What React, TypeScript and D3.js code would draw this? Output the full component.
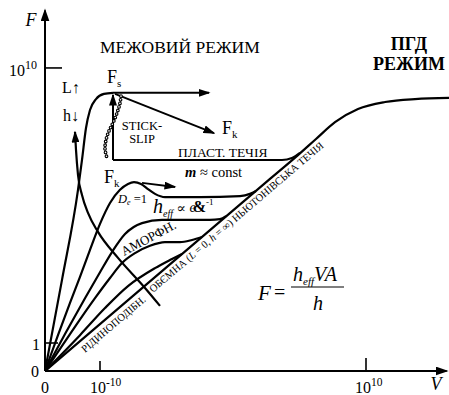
import React from 'react';
import * as d3 from 'd3';

type Pt = [number, number];

// Schematic units: both axes run 0..100 across the plotting frame.
const X = d3.scaleLinear().domain([0, 100]).range([45, 445]);
const Y = d3.scaleLinear().domain([0, 100]).range([371, 5]);

// Static-friction branch rising to the F_s peak
const staticCurve: Pt[] = [[0, 0], [4.25, 24.9], [8.25, 49.5], [9.25, 57.7], [10.25, 66.4], [11.25, 71.3], [12.75, 74.3], [14.75, 75.7], [17, 76.0]];
// Film thickness h falling as load grows (arrow at the top end)
const thicknessCurve: Pt[] = [[7.5, 65.3], [7.75, 60.4], [8.25, 53.6], [9.25, 48.1], [10.75, 43.2], [13.25, 38.0], [18.25, 30.9], [25, 22.7], [28.75, 17.8]];
// Kinetic branch with the D_e = 1 overshoot
const kineticCurve: Pt[] = [[0, 0], [3.25, 9.8], [6.25, 18.6], [8.75, 25.7], [11.25, 33.1], [13.75, 40.2], [16.25, 45.9], [18.75, 49.5], [20.75, 51.1], [22.25, 51.6], [24, 51.1], [25.75, 49.7], [27.5, 48.4], [30, 47.5], [38.75, 47.5], [48.75, 47.8], [51.25, 48.4], [52.75, 49.2]];
// Shear-thinning family merging into the Newtonian line
const thinningA: Pt[] = [[0, 0], [5, 10.1], [10, 19.9], [13.75, 27.0], [16.75, 32.5], [20, 37.4], [24.25, 40.4], [29.25, 41.3], [41.25, 41.3], [43.75, 41.5], [45.25, 42.3]];
const amorphous: Pt[] = [[0, 0], [6.25, 10.1], [12.5, 19.9], [16.25, 25.4], [19.25, 29.5], [22.5, 32.2], [26.25, 34.2], [30, 35.2], [33.75, 35.2], [36.75, 35.8], [39.25, 36.6]];
const thinningC: Pt[] = [[0, 0], [8.75, 9.8], [15, 17.2], [20.75, 23.2], [27.5, 28.1], [31.75, 30.6], [34.25, 32.0]];
// Bulk Newtonian flow, then the transition to the EHD regime
const newtonian: Pt[] = [[0, 0], [56.25, 52.5], [63.25, 59.0], [67.75, 63.4], [72.5, 68.0], [78.25, 71.6], [85, 73.5], [92.5, 74.3], [101, 74.6]];
// Plastic flow plateau (m ≈ const)
const plasticFlow: Pt[] = [[17, 57.65], [59.25, 57.65], [61.75, 58.2], [63.75, 59.6]];
// Stick-slip trace
const slipTrace: Pt[] = [[19, 75.1], [18.75, 73.2], [18, 70.5], [17, 67.8], [16, 65.6], [15.25, 63.1], [15, 60.7], [15.5, 58.2]];

// Straight arrows
const arrows: Pt[][] = [
  [[17, 76.0], [41, 76.0]],
  [[17.5, 75.7], [42.25, 65.0]],
  [[17, 57.65], [17, 75.4]],
  [[24.25, 51.4], [32.5, 50.3]],
];

const xTickValues = [13.75, 80.25];
const xTickSup = ['-10', '10'];
const yTickValues = [7.65, 82.8];
const yTickLabels = ['1', '10'];
const yTickSup = ['', '10'];

const FONT = '"Liberation Serif", "Times New Roman", "DejaVu Serif", serif';

const smooth = d3.line<Pt>().x(d => X(d[0])).y(d => Y(d[1])).curve(d3.curveMonotoneX);
const bendy = d3.line<Pt>().x(d => X(d[0])).y(d => Y(d[1])).curve(d3.curveCatmullRom.alpha(0.5));
const straight = d3.line<Pt>().x(d => X(d[0])).y(d => Y(d[1]));

export default function App() {
  const sw = 2.2;
  const curves = [staticCurve, kineticCurve, thinningA, amorphous, thinningC, newtonian, plasticFlow];
  return (
    <svg width={449} height={395} viewBox="0 0 449 395"
      style={{ position: 'absolute', left: 0, top: 0, background: '#fff', fontFamily: FONT }}>
      <defs>
        <marker id="ah" viewBox="0 0 12 8" refX={10.5} refY={4} markerWidth={12} markerHeight={8}
          markerUnits="userSpaceOnUse" orient="auto-start-reverse">
          <path d="M0,0 L12,4 L0,8 Z" fill="#000" />
        </marker>
        <marker id="axh" viewBox="0 0 13 9" refX={11} refY={4.5} markerWidth={13} markerHeight={9}
          markerUnits="userSpaceOnUse" orient="auto">
          <path d="M0,0 L13,4.5 L0,9 Z" fill="#000" />
        </marker>
      </defs>
      <rect width={449} height={395} fill="#fff" />

      {/* axes */}
      <line x1={X(0)} y1={Y(0)} x2={X(0)} y2={Y(98.5)} stroke="#000" strokeWidth={2} markerEnd="url(#axh)" />
      <line x1={X(0)} y1={Y(0)} x2={X(100.4)} y2={Y(0)} stroke="#000" strokeWidth={2} markerEnd="url(#axh)" />
      {xTickValues.map((v, i) => (
        <g key={'xt' + i}>
          <line x1={X(v)} x2={X(v)} y1={Y(0)} y2={Y(0) - (i === 0 ? 10 : 13)} stroke="#000" strokeWidth={1.6} />
          <text x={X(v) - (i === 0 ? 10 : 11)} y={393} fontSize={16}>10<tspan fontSize={11.5} dy={-7}>{xTickSup[i]}</tspan></text>
        </g>
      ))}
      {yTickValues.map((v, i) => (
        <g key={'yt' + i}>
          <line x1={X(0)} x2={X(0) + (i === 0 ? 13 : 17)} y1={Y(v)} y2={Y(v)} stroke="#000" strokeWidth={1.6} />
          {yTickSup[i] ? (
            <text x={9} y={Y(v) + 8} fontSize={16}>{yTickLabels[i]}<tspan fontSize={12} dy={-7}>{yTickSup[i]}</tspan></text>
          ) : (
            <text x={40} y={Y(v) + 7} fontSize={16} textAnchor="end">{yTickLabels[i]}</text>
          )}
        </g>
      ))}
      <text x={39} y={377} fontSize={16} textAnchor="end">0</text>
      <text x={X(0)} y={393} fontSize={16} textAnchor="middle">0</text>
      <text x={31} y={26} fontSize={18} fontStyle="italic" textAnchor="middle">F</text>
      <text x={436} y={390} fontSize={18} fontStyle="italic" textAnchor="middle">V</text>

      {/* curves */}
      {curves.map((c, i) => (
        <path key={'c' + i} d={smooth(c) || ''} fill="none" stroke="#000" strokeWidth={sw} />
      ))}
      <path d={smooth(thicknessCurve) || ''} fill="none" stroke="#000" strokeWidth={sw} markerStart="url(#ah)" />
      {arrows.map((a, i) => (
        <path key={'a' + i} d={straight(a) || ''} fill="none" stroke="#000" strokeWidth={2} markerEnd="url(#ah)" />
      ))}
      <path d={bendy(slipTrace) || ''} fill="none" stroke="#000" strokeWidth={3.8} strokeLinecap="round" strokeDasharray="0 3.7" />
      <path d={bendy(slipTrace) || ''} fill="none" stroke="#fff" strokeWidth={1.6} strokeLinecap="round" strokeDasharray="0 3.7" />

      {/* regime labels */}
      <text x={100} y={53} fontSize={17.5}>МЕЖОВИЙ РЕЖИМ</text>
      <text x={409} y={50} fontSize={18} fontWeight="bold" textAnchor="middle">ПГД</text>
      <text x={409} y={70} fontSize={18} fontWeight="bold" textAnchor="middle">РЕЖИМ</text>

      <text x={62} y={93} fontSize={16}>L↑</text>
      <text x={63} y={121} fontSize={16}>h↓</text>

      <text x={107} y={83} fontSize={18}>F<tspan fontSize={11} dy={4}>s</tspan></text>
      <text x={222} y={134} fontSize={18}>F<tspan fontSize={11} dy={4}>k</tspan></text>
      <text x={104} y={183} fontSize={18}>F<tspan fontSize={11} dy={4}>k</tspan></text>

      <text x={142} y={130} fontSize={12.5} textAnchor="middle">STICK-</text>
      <text x={142} y={143} fontSize={12.5} textAnchor="middle">SLIP</text>

      <text x={178} y={157} fontSize={13.5}>ПЛАСТ. ТЕЧІЯ</text>
      <text x={185} y={177} fontSize={14.5}><tspan fontWeight="bold" fontStyle="italic">m</tspan> ≈ const</text>

      <text x={118} y={203} fontSize={12.5}><tspan fontStyle="italic">D</tspan><tspan fontSize={8} dy={2} fontStyle="italic">e</tspan><tspan dy={-2}> =1</tspan></text>
      <text x={153} y={213} fontSize={20}><tspan fontStyle="italic">h</tspan><tspan fontSize={10} dy={4} fontStyle="italic">eff</tspan><tspan dy={-4} fontSize={14}> ∝ </tspan><tspan fontSize={14} fontStyle="italic" dy={-1}>e</tspan><tspan fontSize={16} fontWeight="bold" dx={-3}>&amp;</tspan><tspan fontSize={9} dy={-7}>-1</tspan></text>

      <text x={0} y={0} fontSize={13} transform="translate(124,256) rotate(-28)">АМОРФН.</text>

      <text x={0} y={0} fontSize={10.5} transform="translate(85,353) rotate(-40.5)">РІДИНОПОДІБН.</text>
      <text x={0} y={0} fontSize={10.5} transform="translate(153,293) rotate(-40.5)">ОБЄМНА (<tspan fontStyle="italic">L</tspan> = 0, <tspan fontStyle="italic">h</tspan> = ∞) НЬЮТОНІВСЬКА ТЕЧІЯ</text>

      {/* formula */}
      <text x={258} y={300} fontSize={21} fontStyle="italic">F</text>
      <text x={274} y={299} fontSize={20}>=</text>
      <text x={293} y={281} fontSize={20}><tspan fontStyle="italic">h</tspan><tspan fontSize={11} dy={4} fontStyle="italic">eff</tspan><tspan dy={-4} fontStyle="italic">VA</tspan></text>
      <line x1={291} x2={344} y1={287} y2={287} stroke="#000" strokeWidth={1.2} />
      <text x={318} y={310} fontSize={20} fontStyle="italic" textAnchor="middle">h</text>
    </svg>
  );
}
